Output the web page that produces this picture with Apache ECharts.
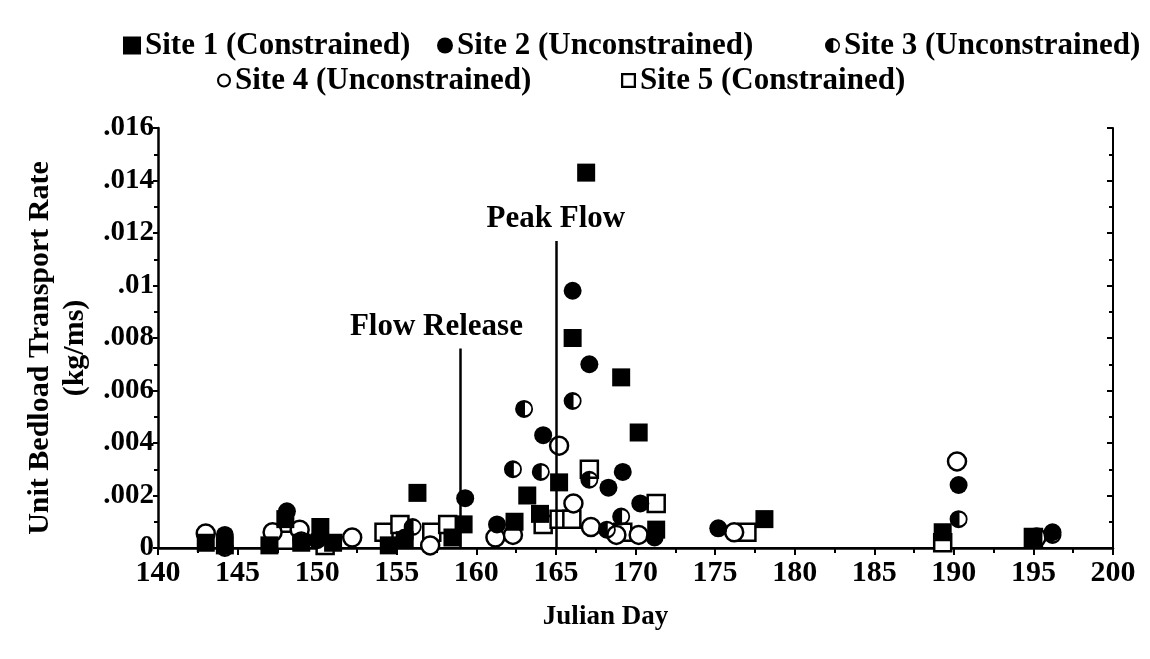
<!DOCTYPE html>
<html>
<head>
<meta charset="utf-8">
<script src="https://cdn.jsdelivr.net/npm/echarts@6/dist/echarts.min.js"></script>
<style>
html, body { margin: 0; background: #fff; }
#chart { width: 1150px; height: 659px; }
</style>
</head>
<body>
<div id="chart"></div>
<script>
// values: [julian day, kg/ms]
var site1 = [[143, 0.0002], [144.2, 0.0001], [147, 0.0001], [148, 0.0011], [149, 0.0002], [150.2, 0.0008],
  [151, 0.0002], [154.5, 0.0001], [155.5, 0.0003], [156.3, 0.0021], [158.5, 0.0004], [159.2, 0.0009],
  [162.4, 0.001], [163.2, 0.002], [164, 0.0013], [165.2, 0.0025], [166.05, 0.008], [166.9, 0.0143],
  [169.1, 0.0065], [170.2, 0.0044], [171.3, 0.0007], [178.1, 0.0011], [189.3, 0.0006], [195, 0.0004]];
var site2 = [[144.2, 0.0005], [148.1, 0.0014], [150, 0.0003], [155.5, 0.0004], [159.3, 0.0019], [161.3, 0.0009],
  [164.2, 0.0043], [166.05, 0.0098], [167.1, 0.007], [168.3, 0.0023], [169.2, 0.0029], [170.3, 0.0017],
  [171.2, 0.0004], [175.2, 0.00075], [190.3, 0.0024], [196.2, 0.0006]];
var site3 = [[144.2, 0.0], [149, 0.0003], [156, 0.0008], [162.3, 0.003], [163, 0.0053], [164.05, 0.0029],
  [166.05, 0.0056], [167.1, 0.0026], [169.1, 0.0012], [168.2, 0.0007], [190.3, 0.0011], [196.2, 0.0005]];
var site4 = [[143, 0.00055], [147.2, 0.0006], [148.9, 0.0007], [152.2, 0.0004], [157.1, 0.0001], [161.2, 0.0004],
  [162.3, 0.0005], [165.2, 0.0039], [166.1, 0.0017], [167.2, 0.0008], [168.8, 0.0005], [170.2, 0.0005],
  [176.2, 0.0006], [190.2, 0.0033], [195.2, 0.0004]];
var site5 = [[148, 0.0003], [150.5, 0.0001], [154.2, 0.0006], [155.2, 0.0009], [157.2, 0.0006], [158.2, 0.0009],
  [164.2, 0.0009], [165.2, 0.0011], [166, 0.0011], [167.1, 0.003], [169.2, 0.0006], [171.3, 0.0017],
  [177, 0.0006], [189.3, 0.0002], [195, 0.0004]];

var seriesNames = ['Site 1 (Constrained)', 'Site 2 (Unconstrained)', 'Site 3 (Unconstrained)',
  'Site 4 (Unconstrained)', 'Site 5 (Constrained)'];
var releaseLine = [159, 0.0076];
var peakLine = [165, 0.0117];

var FONT = '"Liberation Serif", "DejaVu Serif", serif';
var halfCircle = 'path://M10,0A10,10 0 1,1 10,20A10,10 0 1,1 10,0Z M11,3L11,17A7,7 0 0,0 11,3Z';
var ring = 'path://M10,0A10,10 0 1,1 10,20A10,10 0 1,1 10,0Z M10,3A7,7 0 1,0 10,17A7,7 0 1,0 10,3Z';
var box = 'path://M0,0L20,0L20,20L0,20Z M3,3L3,17L17,17L17,3Z';

function yLabel (v) {
  if (v === 0) return '0';
  return String(parseFloat(v.toFixed(3))).replace(/^0\./, '.');
}

function legendAt (name, left, top, icon, size) {
  return {
    data: [{ name: name, icon: icon, itemStyle: { color: '#000', borderWidth: 0 } }],
    left: left, top: top,
    itemWidth: size, itemHeight: size, itemGap: 0,
    textStyle: { fontFamily: FONT, fontWeight: 'bold', fontSize: 31, color: '#000', padding: [0, 0, 0, -1] },
    selectedMode: false
  };
}

var chart = echarts.init(document.getElementById('chart'));
chart.setOption({
  animation: false,
  backgroundColor: '#fff',
  legend: [
    legendAt(seriesNames[0], 118, 25, 'rect', 18),
    legendAt(seriesNames[1], 432, 25, 'circle', 16),
    legendAt(seriesNames[2], 820, 25, halfCircle, 15),
    legendAt(seriesNames[3], 212, 60, ring, 14),
    legendAt(seriesNames[4], 616, 60, box, 15)
  ],
  grid: { left: 158, right: 37, top: 128, bottom: 111 },
  xAxis: [{
    type: 'value', min: 140, max: 200, interval: 5,
    name: 'Julian Day', nameLocation: 'middle', nameGap: 56,
    nameTextStyle: { fontFamily: FONT, fontWeight: 'bold', fontSize: 27, color: '#000', padding: [0, 60, 0, 0] },
    axisLine: { onZero: false, lineStyle: { color: '#000', width: 2.5 } },
    axisTick: { length: 7, lineStyle: { color: '#000', width: 2 } },
    minorTick: { show: true, splitNumber: 2, length: 5, lineStyle: { color: '#000', width: 2 } },
    axisLabel: { fontFamily: FONT, fontWeight: 'bold', fontSize: 30, color: '#000', margin: 10 },
    splitLine: { show: false }
  }, {
    type: 'value', min: 140, max: 200, interval: 5, position: 'top',
    axisLine: { lineStyle: { color: '#000', width: 2 } },
    axisTick: { inside: true, length: 6, lineStyle: { color: '#000', width: 2 } },
    axisLabel: { show: false }, splitLine: { show: false }
  }],
  yAxis: [{
    type: 'value', min: 0, max: 0.016, interval: 0.002,
    name: 'Unit Bedload Transport Rate\n(kg/ms)', nameLocation: 'middle', nameGap: 56, nameRotate: 90,
    nameTextStyle: { fontFamily: FONT, fontWeight: 'bold', fontSize: 30, color: '#000', lineHeight: 35,
      padding: [0, 20, 0, 0] },
    axisLine: { lineStyle: { color: '#000', width: 2.5 } },
    axisTick: { length: 5, lineStyle: { color: '#000', width: 2 } },
    minorTick: { show: true, splitNumber: 2, length: 4, lineStyle: { color: '#000', width: 2 } },
    axisLabel: { fontFamily: FONT, fontWeight: 'bold', fontSize: 29, color: '#000', margin: 4, formatter: yLabel },
    splitLine: { show: false }
  }, {
    type: 'value', min: 0, max: 0.016, interval: 0.002, position: 'right',
    axisLine: { show: true, lineStyle: { color: '#000', width: 2 } },
    axisTick: { show: true, inside: true, length: 6, lineStyle: { color: '#000', width: 2 } },
    minorTick: { show: true, splitNumber: 2, length: 4, lineStyle: { color: '#000', width: 2 } },
    axisLabel: { show: false }, splitLine: { show: false }
  }],
  series: [{
    name: seriesNames[4], type: 'scatter', data: site5, symbol: 'rect', symbolSize: 17,
    itemStyle: { color: '#fff', borderColor: '#000', borderWidth: 2.5, opacity: 1 }
  }, {
    name: seriesNames[3], type: 'scatter', data: site4, symbol: 'circle', symbolSize: 18,
    itemStyle: { color: '#fff', borderColor: '#000', borderWidth: 2.5, opacity: 1 }
  }, {
    name: seriesNames[2], type: 'scatter', data: site3, symbol: halfCircle, symbolSize: 18,
    symbolKeepAspect: true,
    itemStyle: { color: '#000', opacity: 1 }
  }, {
    name: seriesNames[1], type: 'scatter', data: site2, symbol: 'circle', symbolSize: 18,
    itemStyle: { color: '#000', opacity: 1 }
  }, {
    name: seriesNames[0], type: 'scatter', data: site1, symbol: 'rect', symbolSize: 18,
    itemStyle: { color: '#000', opacity: 1 },
    markLine: {
      silent: true, symbol: 'none', animation: false,
      lineStyle: { color: '#000', width: 2.5, type: 'solid' },
      label: {
        show: true, position: 'end', distance: 6,
        fontFamily: FONT, fontWeight: 'bold', fontSize: 31, color: '#000'
      },
      data: [
        [{ coord: [releaseLine[0], 0], label: { formatter: 'Flow Release', padding: [0, 48, 0, 0] } },
         { coord: releaseLine }],
        [{ coord: [peakLine[0], 0], label: { formatter: 'Peak Flow' } },
         { coord: peakLine }]
      ]
    }
  }]
});
</script>
</body>
</html>
